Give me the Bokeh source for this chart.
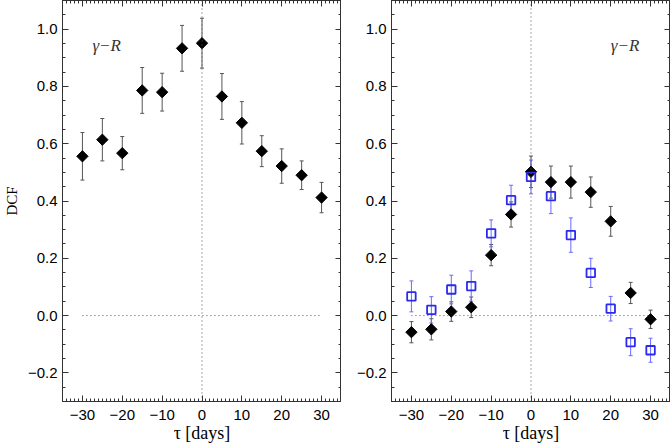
import numpy as np
from bokeh.plotting import figure
from bokeh.models import (ColumnDataSource, Whisker, TeeHead, Range1d, LinearAxis,
                          FixedTicker, CustomJSTickFormatter, Span, Label)
from bokeh.layouts import row
from bokeh.embed import file_html
from bokeh.resources import INLINE

# ---------------- data ----------------
tau = [-30, -25, -20, -15, -10, -5, 0, 5, 10, 15, 20, 25, 30]

left_dcf = [0.556, 0.614, 0.567, 0.786, 0.780, 0.933, 0.951, 0.765, 0.673, 0.574, 0.522, 0.490, 0.412]
left_err = [0.083, 0.074, 0.058, 0.080, 0.066, 0.080, 0.087, 0.080, 0.074, 0.054, 0.060, 0.050, 0.053]

right_dcf_black = [-0.058, -0.048, 0.014, 0.029, 0.211, 0.353, 0.502, 0.466, 0.466, 0.431, 0.329, 0.079, -0.013]
right_err_black = [0.037, 0.037, 0.034, 0.036, 0.037, 0.044, 0.055, 0.056, 0.056, 0.053, 0.052, 0.037, 0.032]

right_dcf_blue = [0.067, 0.020, 0.091, 0.103, 0.287, 0.403, 0.484, 0.417, 0.281, 0.149, 0.024, -0.093, -0.121]
right_err_blue = [0.054, 0.046, 0.050, 0.053, 0.047, 0.052, 0.059, 0.061, 0.060, 0.051, 0.043, 0.047, 0.042]

x_ticks = [-30, -20, -10, 0, 10, 20, 30]
x_tick_labels = ["\u221230", "\u221220", "\u221210", "0", "10", "20", "30"]
y_ticks = [-0.2, 0.0, 0.2, 0.4, 0.6, 0.8, 1.0]
y_tick_labels = ["\u22120.2", "0.0", "0.2", "0.4", "0.6", "0.8", "1.0"]

panel_label = "\u03b3\u2212R"
x_label = "\u03c4 [days]"
y_label = "DCF"

# ---------------- styling ----------------
AXIS_COLOR = "#333333"
TICK_FONT = "Liberation Sans"
SERIF = "Liberation Serif"
BLUE = "#2a2af0"
BLUE_ERR = "#6a6aff"
GRAY_ERR = "#555555"


def make_formatter(vals, labels):
    return CustomJSTickFormatter(args=dict(vals=vals, labels=labels), code="""
        for (let i = 0; i < vals.length; i++) {
            if (Math.abs(vals[i] - tick) < 1e-6) return labels[i];
        }
        return "";
    """)


blank_formatter = CustomJSTickFormatter(code='return "";')


def style_axis(ax, show_labels):
    ax.axis_line_color = AXIS_COLOR
    ax.major_tick_line_color = AXIS_COLOR
    ax.minor_tick_line_color = AXIS_COLOR
    ax.major_tick_in = 6
    ax.major_tick_out = 0
    ax.minor_tick_in = 3
    ax.minor_tick_out = 0
    ax.major_label_text_font = TICK_FONT
    ax.major_label_text_color = "black"
    if show_labels:
        ax.major_label_text_font_size = "15px"
    else:
        ax.major_label_text_font_size = "1px"
        ax.major_label_standoff = 0


x_minor = list(np.arange(-35, 36, 1))
y_minor = list(np.round(np.arange(-0.3, 1.1001, 0.05), 3))


def make_panel(min_left, show_ylabel):
    p = figure(frame_width=279, frame_height=401,
               x_range=Range1d(-35, 35), y_range=Range1d(-0.3, 1.1),
               min_border_left=min_left, min_border_right=0,
               min_border_top=0, min_border_bottom=0,
               output_backend="svg", toolbar_location=None)
    p.grid.visible = False
    p.outline_line_color = AXIS_COLOR
    p.background_fill_color = "white"
    p.border_fill_color = "white"

    xt = FixedTicker(ticks=x_ticks, minor_ticks=x_minor)
    yt = FixedTicker(ticks=y_ticks, minor_ticks=y_minor)

    # bottom
    xb = p.xaxis[0]
    xb.ticker = xt
    xb.formatter = make_formatter(x_ticks, x_tick_labels)
    style_axis(xb, True)
    xb.major_label_standoff = 8
    xb.axis_label = x_label
    xb.axis_label_text_font = SERIF
    xb.axis_label_text_font_style = "normal"
    xb.axis_label_text_font_size = "18px"
    xb.axis_label_text_color = "black"
    xb.axis_label_standoff = 0

    # left
    yl = p.yaxis[0]
    yl.ticker = yt
    yl.formatter = make_formatter(y_ticks, y_tick_labels)
    style_axis(yl, True)
    yl.major_label_standoff = 5
    if show_ylabel:
        yl.axis_label = y_label
        yl.axis_label_text_font = SERIF
        yl.axis_label_text_font_style = "normal"
        yl.axis_label_text_font_size = "15px"
        yl.axis_label_text_color = "black"
        yl.axis_label_standoff = 5

    # top and right mirror axes (ticks only)
    xa = LinearAxis(ticker=FixedTicker(ticks=x_ticks, minor_ticks=x_minor), formatter=blank_formatter)
    style_axis(xa, False)
    p.add_layout(xa, "above")
    yr = LinearAxis(ticker=FixedTicker(ticks=y_ticks, minor_ticks=y_minor), formatter=blank_formatter)
    style_axis(yr, False)
    p.add_layout(yr, "right")

    # dotted reference lines
    p.add_layout(Span(location=0, dimension="height", line_color="#555555",
                      line_dash="1 3", line_width=1))
    zsrc = ColumnDataSource(dict(x0=[min(tau)], x1=[max(tau)], y0=[0.0], y1=[0.0]))
    p.segment(x0="x0", y0="y0", x1="x1", y1="y1", source=zsrc,
              line_color="#555555", line_dash="1 3", line_width=1)
    return p


def add_series(p, dcf, err, kind):
    src = ColumnDataSource(dict(
        x=tau, y=dcf,
        lo=[v - e for v, e in zip(dcf, err)],
        hi=[v + e for v, e in zip(dcf, err)]))
    col = GRAY_ERR if kind == "diamond" else BLUE_ERR
    w = Whisker(source=src, base="x", upper="hi", lower="lo", dimension="height",
                line_color=col, line_width=1,
                upper_head=TeeHead(size=4, line_color=col, line_width=1),
                lower_head=TeeHead(size=4, line_color=col, line_width=1))
    p.add_layout(w)
    if kind == "diamond":
        p.scatter("x", "y", source=src, marker="square", angle=np.pi / 4,
                  size=8, fill_color="black", line_color="black")
    else:
        p.scatter("x", "y", source=src, marker="square", size=8.5,
                  fill_color=None, line_color=BLUE, line_width=1.8)


p1 = make_panel(62, True)
add_series(p1, left_dcf, left_err, "diamond")
p1.add_layout(Label(x=-27.5, y=0.942, text=panel_label, text_font=SERIF,
                    text_font_style="italic", text_font_size="17px",
                    text_color="#333333", text_baseline="alphabetic"))

p2 = make_panel(50, False)
add_series(p2, right_dcf_black, right_err_black, "diamond")
add_series(p2, right_dcf_blue, right_err_blue, "square")
p2.add_layout(Label(x=20.0, y=0.942, text=panel_label, text_font=SERIF,
                    text_font_style="italic", text_font_size="17px",
                    text_color="#333333", text_baseline="alphabetic"))

layout = row(p1, p2)

open("out.html", "w").write(file_html(layout, INLINE))
